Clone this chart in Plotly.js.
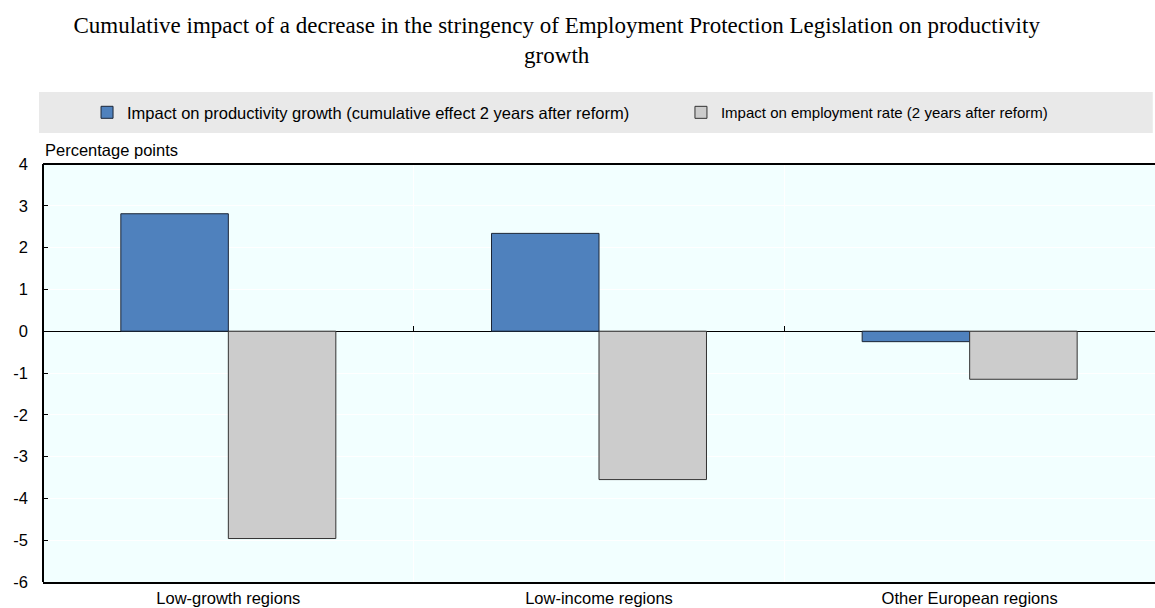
<!DOCTYPE html>
<html>
<head>
<meta charset="utf-8">
<script src="https://cdn.plot.ly/plotly-3.0.1.min.js"></script>
<style>
  html, body { margin: 0; padding: 0; background: #fff; overflow: hidden; }
  #chart { width: 1155px; height: 608px; }
</style>
</head>
<body>
<div id="chart"></div>
<script>
// Regions compared
const regions = ['Low-growth regions', 'Low-income regions', 'Other European regions'];

// Effects two years after the reform, in percentage points
const productivityImpact = [2.81, 2.34, -0.25];
const employmentImpact = [-4.96, -3.55, -1.15];

const seriesNames = [
  'Impact on productivity growth (cumulative effect 2 years after reform)',
  'Impact on employment rate (2 years after reform)'
];

const yTicks = [-6, -5, -4, -3, -2, -1, 0, 1, 2, 3, 4];

const SANS = 'Liberation Sans, Arial, sans-serif';
const SERIF = 'Liberation Serif, Times New Roman, serif';
const FS = 16.5;

const traces = [
  {
    type: 'bar',
    name: seriesNames[0],
    x: regions,
    y: productivityImpact,
    legend: 'legend',
    marker: { color: '#4F81BD', line: { color: '#1b2536', width: 1 } },
    hoverinfo: 'x+y'
  },
  {
    type: 'bar',
    name: seriesNames[1],
    x: regions,
    y: employmentImpact,
    legend: 'legend2',
    marker: { color: '#CCCCCC', line: { color: '#333333', width: 1 } },
    hoverinfo: 'x+y'
  },
  // carries the overlay axis that puts the category ticks on the zero line
  {
    type: 'scatter',
    x: [],
    y: [],
    xaxis: 'x2',
    yaxis: 'y',
    showlegend: false,
    hoverinfo: 'skip'
  }
];

const legendBase = {
  orientation: 'h',
  xanchor: 'left',
  y: 1.123,
  yanchor: 'middle',
  bgcolor: 'rgba(0,0,0,0)'
};

const layout = {
  width: 1155,
  height: 608,
  margin: { l: 43, r: 0, t: 164, b: 26 },
  paper_bgcolor: '#ffffff',
  plot_bgcolor: '#F2FFFF',
  font: { family: SANS, size: FS, color: '#000' },
  showlegend: true,
  title: {
    text: 'Cumulative impact of a decrease in the stringency of Employment Protection Legislation on productivity<br>growth',
    font: { family: SERIF, size: 23, color: '#000' },
    x: 0.482,
    xanchor: 'center',
    y: 0.946,
    yanchor: 'top'
  },
  barmode: 'group',
  bargap: 0.42,
  bargroupgap: 0,
  legend: Object.assign({}, legendBase, {
    x: 0.0396,
    font: { family: SANS, size: FS, color: '#000' }
  }),
  legend2: Object.assign({}, legendBase, {
    x: 0.5737,
    font: { family: SANS, size: 15, color: '#000' }
  }),
  xaxis: {
    type: 'category',
    tickson: 'boundaries',
    showgrid: true,
    gridcolor: '#ffffff',
    gridwidth: 1,
    ticks: '',
    showline: true,
    linecolor: '#000',
    linewidth: 2,
    tickfont: { family: SANS, size: FS, color: '#000' },
    zeroline: false,
    fixedrange: true
  },
  xaxis2: {
    type: 'linear',
    overlaying: 'x',
    anchor: 'free',
    side: 'top',
    position: 0.6,
    range: [-0.5, 2.5],
    tickvals: [0.5, 1.5],
    ticks: 'outside',
    ticklen: 5,
    tickwidth: 1,
    tickcolor: '#000',
    showticklabels: false,
    showgrid: false,
    showline: false,
    zeroline: false,
    fixedrange: true
  },
  yaxis: {
    range: [-6, 4],
    tickvals: yTicks,
    ticktext: yTicks.map(String),
    ticks: 'inside',
    ticklen: 5,
    tickcolor: '#000',
    tickwidth: 1,
    ticklabelstandoff: 14,
    showline: false,
    showgrid: true,
    gridcolor: '#ffffff',
    gridwidth: 1,
    zeroline: true,
    zerolinecolor: '#000',
    zerolinewidth: 1,
    tickfont: { family: SANS, size: FS, color: '#000' },
    fixedrange: true
  },
  annotations: [
    {
      text: 'Percentage points',
      xref: 'paper', yref: 'paper',
      x: 0, y: 1,
      xanchor: 'left', yanchor: 'bottom',
      yshift: 3,
      showarrow: false,
      font: { family: SANS, size: FS, color: '#000' }
    }
  ],
  shapes: [
    // grey band behind the legend
    {
      type: 'rect', xref: 'paper', yref: 'paper', layer: 'below',
      x0: -0.0036, x1: 0.998, y0: 1.074, y1: 1.172,
      fillcolor: '#E9E9E9', line: { width: 0 }
    },
    // top frame line of the plot area
    {
      type: 'line', xref: 'paper', yref: 'paper',
      x0: 0, x1: 1, y0: 1, y1: 1,
      line: { color: '#000', width: 2 }
    },
    // left frame line of the plot area
    {
      type: 'line', xref: 'paper', yref: 'paper',
      x0: 0, x1: 0, y0: 0, y1: 1,
      line: { color: '#000', width: 2 }
    }
  ]
};

Plotly.newPlot('chart', traces, layout, { displayModeBar: false, staticPlot: true });
</script>
</body>
</html>
